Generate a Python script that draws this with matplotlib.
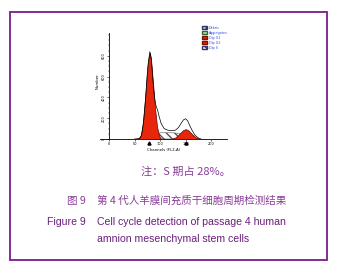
import matplotlib.pyplot as plt
from matplotlib.patches import Patch, Rectangle

# =========================
# DADOS
# =========================
canal_total = [50, 60, 64, 68, 72, 76, 80, 83, 86, 89, 92, 95, 98, 102, 108, 115,
               122, 130, 136, 141, 146, 150, 154, 158, 163, 168, 174, 180]
contagem_total = [0, 5, 40, 180, 420, 700, 840, 760, 560, 400, 320, 280, 220, 150, 100, 85,
                  80, 85, 110, 150, 185, 195, 175, 130, 80, 40, 12, 0]

canal_g1 = [56, 62, 66, 70, 74, 78, 80, 82, 86, 90, 94, 98, 102]
contagem_g1 = [0, 30, 140, 350, 610, 800, 830, 780, 550, 300, 120, 30, 0]

canal_g2 = [122, 130, 138, 145, 150, 155, 162, 170, 178]
contagem_g2 = [0, 15, 50, 85, 95, 85, 50, 15, 0]

canal_s = [70, 80, 90, 100, 110, 120, 130, 140, 150, 160, 170]
contagem_s = [0, 20, 50, 60, 60, 60, 58, 50, 30, 8, 0]

picos = [78, 150]

legenda = ["Debris", "Aggregates", "Dip G1", "Dip G2", "Dip S"]
xticks = [0, 50, 100, 150, 200]
yticks = [0, 200, 400, 600, 800]

nota = "注：S 期占 28%。"
titulo_cn = ["图 9", "第 4 代人羊膜间充质干细胞周期检测结果"]
titulo_en = ["Figure 9", "Cell cycle detection of passage 4 human", "amnion mesenchymal stem cells"]

# =========================
# FIGURA
# =========================
roxo = "#7b1a8c"
fig = plt.figure(figsize=(3.39, 2.72), dpi=100)
fig.patches.append(Rectangle((10 / 339, 1 - 260 / 272), 317 / 339, 248 / 272,
                             transform=fig.transFigure, fill=False,
                             edgecolor=roxo, linewidth=1.3))

ax = fig.add_axes([100 / 339, 1 - 139 / 272, 127 / 339, 106 / 272])
ax.set_xlim(-17.6, 231)
ax.set_ylim(0, 1020)

ax.fill_between(canal_total, contagem_total, color="white", zorder=1)
ax.fill_between(canal_s, contagem_s, facecolor="none", edgecolor="#555555",
                hatch="\\\\\\\\", linewidth=0.4, zorder=2)
ax.fill_between(canal_g1, contagem_g1, color="#e8260c", edgecolor="#5a0c00",
                linewidth=0.5, zorder=3)
ax.fill_between(canal_g2, contagem_g2, color="#e8260c", edgecolor="#5a0c00",
                linewidth=0.5, zorder=3)
ax.plot(canal_total, contagem_total, color="black", linewidth=0.5, zorder=4)
ax.plot(picos, [-35] * len(picos), "^", color="black", markersize=2.2, clip_on=False)

for lado in ["top", "right"]:
    ax.spines[lado].set_visible(False)
ax.spines["left"].set_position(("data", 0))
ax.spines["left"].set_linewidth(0.6)
ax.spines["bottom"].set_linewidth(0.6)

ax.set_xticks(xticks)
ax.set_xticks(range(0, 231, 10), minor=True)
ax.set_yticks(yticks)
ax.set_yticks(range(0, 1001, 50), minor=True)
ax.tick_params(labelsize=2.5, length=1.5, width=0.4, pad=1)
ax.tick_params(which="minor", length=1, width=0.3)
for lab in ax.get_yticklabels():
    lab.set_rotation(90)
    lab.set_va("center")
ax.set_xlabel("Channels (FL2-A)", fontsize=2.8, labelpad=1)
ax.set_ylabel("Number", fontsize=2.8, labelpad=1)
ax.yaxis.set_label_coords(0.0, 0.55)

alcas = [Patch(facecolor="#cccccc", edgecolor="#333366", hatch="||||"),
         Patch(facecolor="#b8e6b0", edgecolor="#336633"),
         Patch(facecolor="#e8260c", edgecolor="#7a1000"),
         Patch(facecolor="#e8260c", edgecolor="#7a1000"),
         Patch(facecolor="white", edgecolor="#333366", hatch="\\\\\\\\")]
leg = ax.legend(alcas, legenda, loc="upper left", bbox_to_anchor=(0.79, 1.08),
                fontsize=2.4, frameon=False, handlelength=1.6, handleheight=1.0,
                labelspacing=0.3, handletextpad=0.5, borderaxespad=0)
for t in leg.get_texts():
    t.set_color("#3355dd")

# =========================
# LEGENDAS DE TEXTO
# =========================
cjk = ["Noto Sans CJK SC", "DejaVu Sans"]
fig.text(186 / 339, 1 - 172 / 272, nota, family=cjk, fontsize=8, color="#8a3d99",
         ha="center", va="center")
fig.text(67 / 339, 1 - 201 / 272, titulo_cn[0], family=cjk, fontsize=7.6, color="#8a3d99",
         ha="left", va="center")
fig.text(97 / 339, 1 - 201 / 272, titulo_cn[1], family=cjk, fontsize=7.6, color="#8a3d99",
         ha="left", va="center")
fig.text(47 / 339, 1 - 222 / 272, titulo_en[0], family="Liberation Sans", fontsize=7.6,
         color="#6a1f7c", ha="left", va="center")
fig.text(97 / 339, 1 - 222 / 272, titulo_en[1], family="Liberation Sans", fontsize=7.6,
         color="#6a1f7c", ha="left", va="center")
fig.text(97 / 339, 1 - 239 / 272, titulo_en[2], family="Liberation Sans", fontsize=7.6,
         color="#6a1f7c", ha="left", va="center")

fig.savefig("out.png", dpi=100)
